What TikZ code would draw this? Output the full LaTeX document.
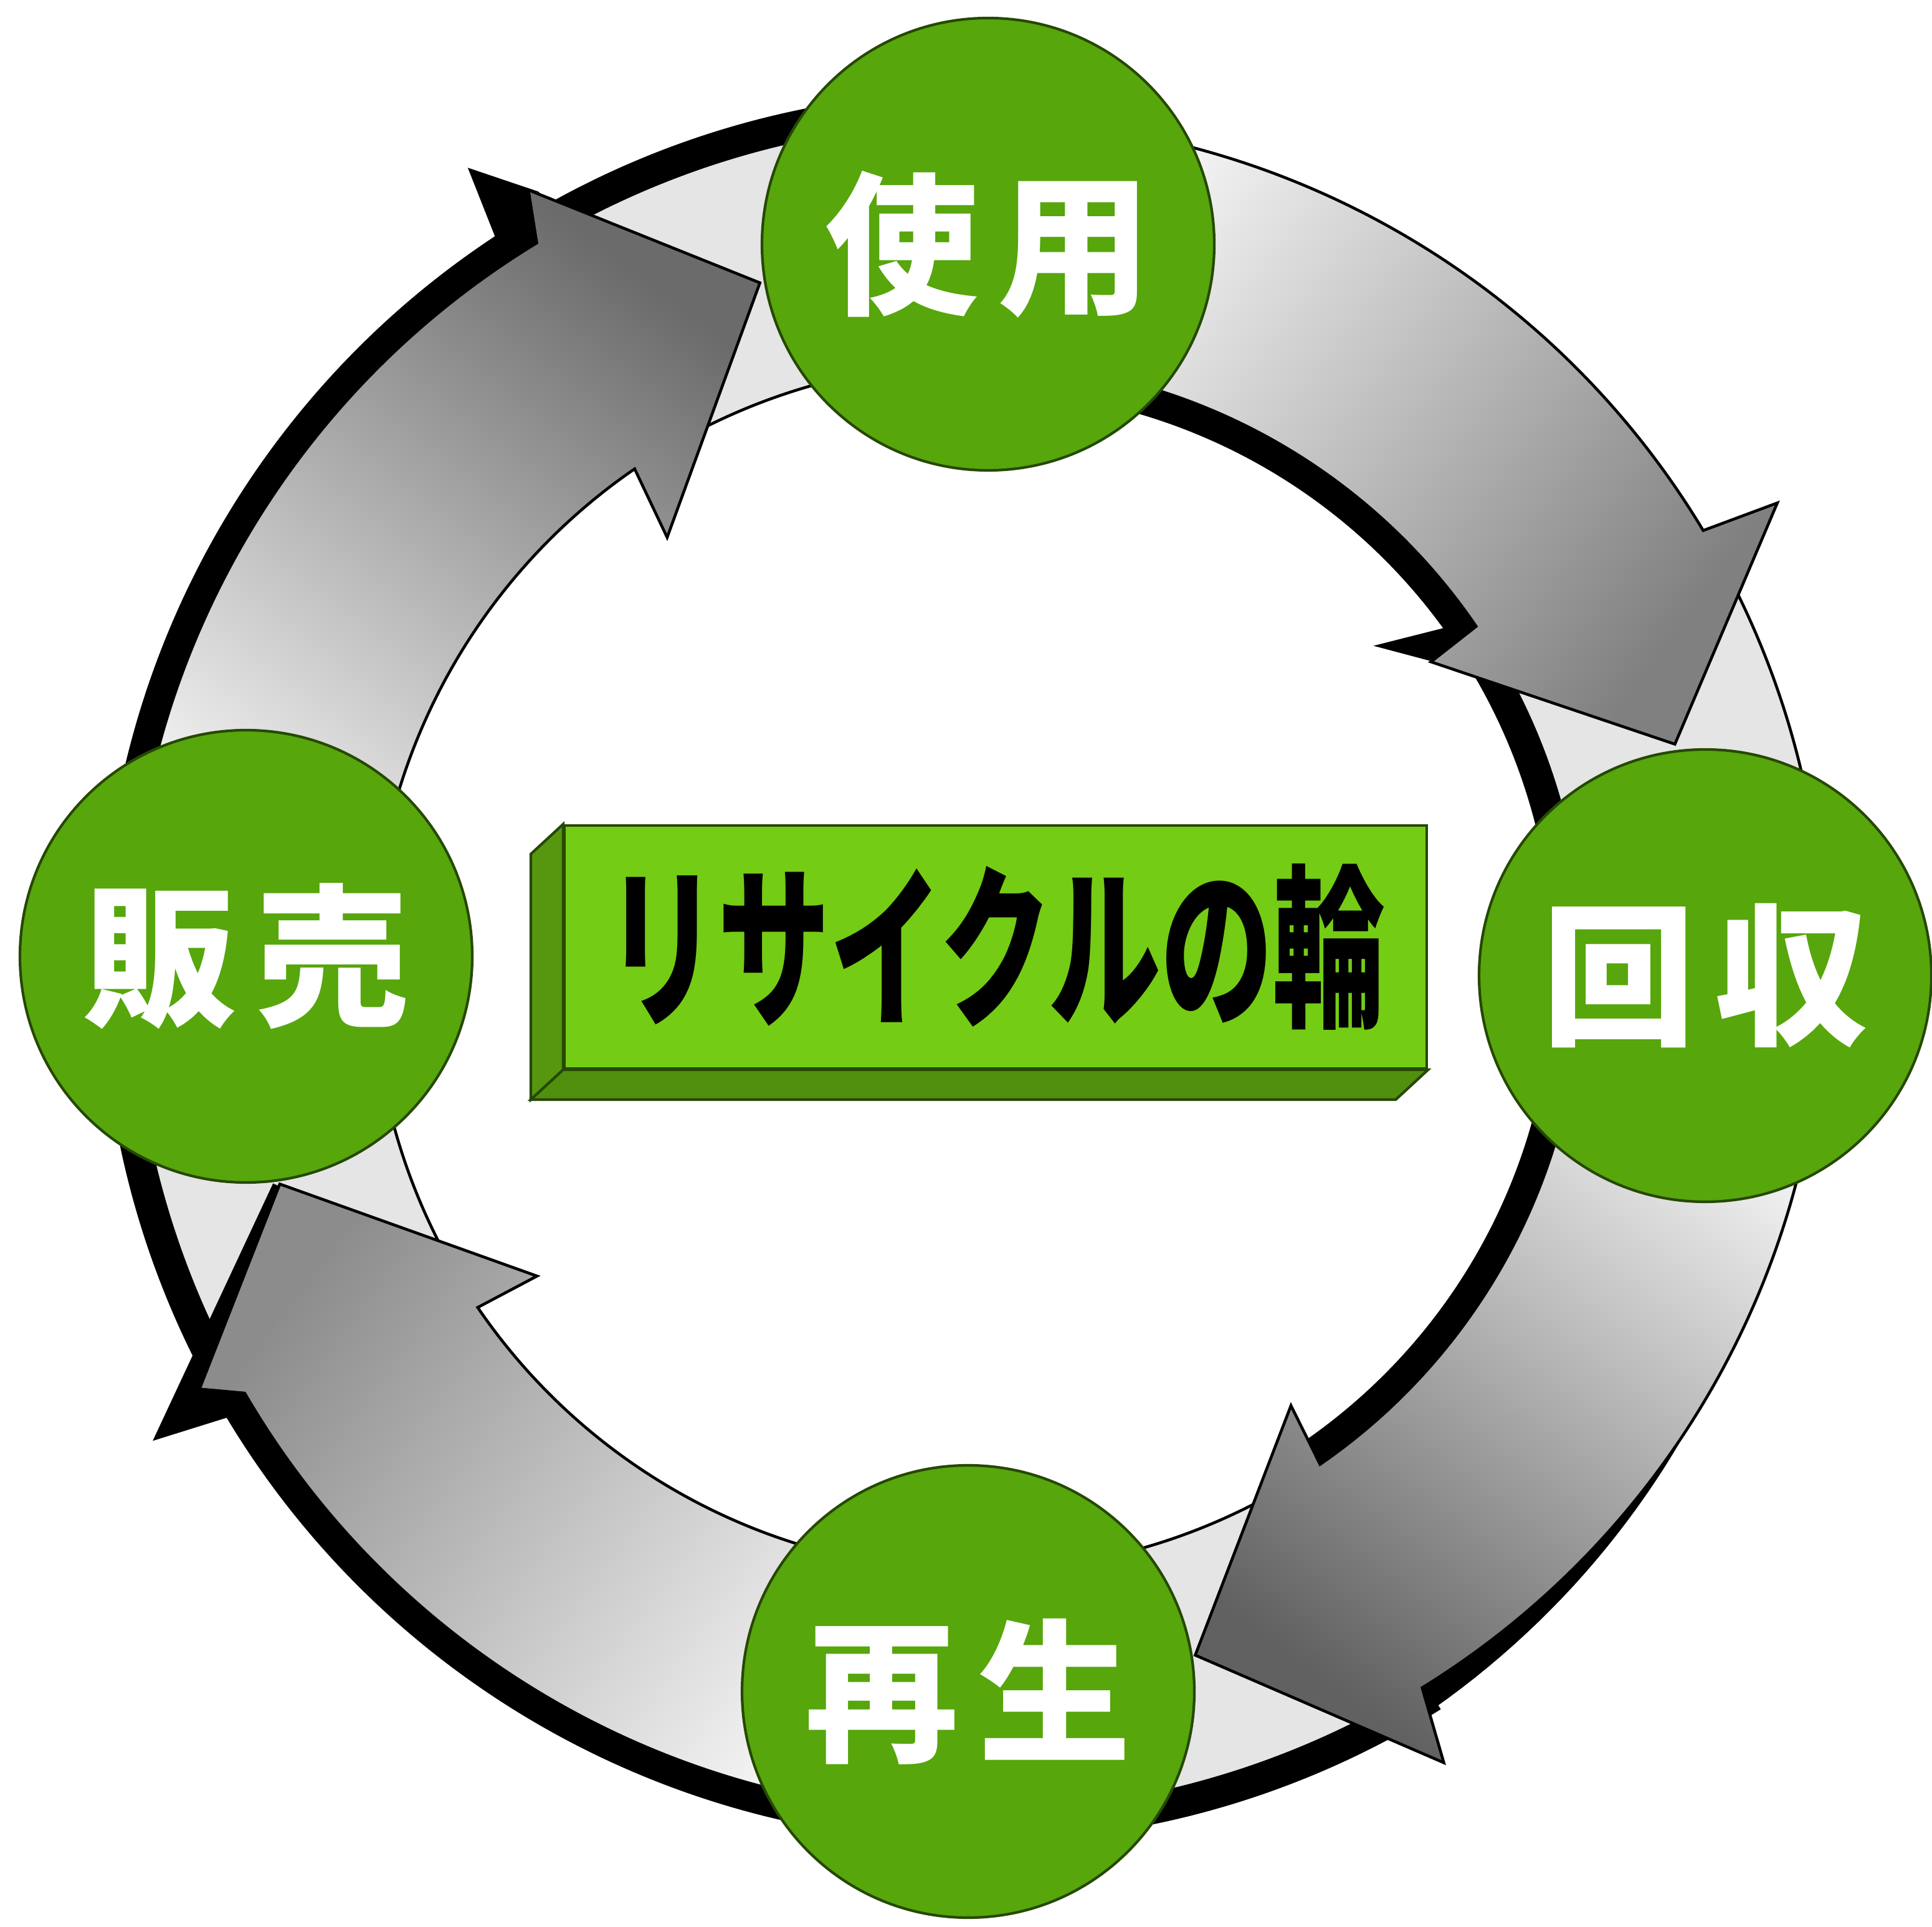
\documentclass[tikz,border=0pt]{standalone}
\usepackage{fontspec}
\usepackage{graphicx}
\usepackage{tikz}
\newfontfamily\jpfont{Noto Sans CJK JP}

\definecolor{discgreen}{RGB}{86,166,12}
\definecolor{plategreen}{RGB}{116,204,20}
\definecolor{edgegreen}{RGB}{38,72,4}

\begin{document}
\begin{tikzpicture}[stage/.style = {draw=edgegreen, circle, line width=1.2pt, fill=discgreen, minimum size=7.26cm, inner sep=0pt, text=white, font=\jpfont\bfseries\fontsize{70}{70}\selectfont},
  plate/.style = {draw=edgegreen, line width=1.2pt, fill=plategreen, minimum width=13.84cm, minimum height=3.90cm, inner sep=0pt, font=\jpfont\bfseries\fontsize{80}{80}\selectfont},
  rim/.style = {draw=black, line width=1.3pt, line join=miter},
  wedge/.style = {fill=black!10}]

\useasboundingbox (0,0) rectangle (31.01,30.92);
\coordinate (ring) at (15.68,15.40);

\begin{scope}[shift={(ring)}]
%% tails behind the circles
\fill[wedge] (121:9.7) arc[start angle=121, end angle=89.1, radius=9.7] -- (89.1:13.6) arc[start angle=89.1, end angle=121, radius=13.6] -- cycle;
\fill (121:13.55) arc[start angle=121, end angle=89.1, radius=13.55] -- (89.1:14.05) arc[start angle=89.1, end angle=121, radius=14.05] -- cycle;
\draw[rim] (121:9.7) arc[start angle=121, end angle=89.1, radius=9.7];

\fill[wedge] (31:9.7) arc[start angle=31, end angle=-0.7, radius=9.7] -- (-0.7:13.6) arc[start angle=-0.7, end angle=31, radius=13.6] -- cycle;
\fill (31:9.25) arc[start angle=31, end angle=-0.7, radius=9.25] -- (-0.7:9.75) arc[start angle=-0.7, end angle=31, radius=9.75] -- cycle;
\draw[rim] (31:13.6) arc[start angle=31, end angle=-0.7, radius=13.6];

\fill[wedge] (-58:9.7) arc[start angle=-58, end angle=-90.7, radius=9.7] -- (-90.7:13.6) arc[start angle=-90.7, end angle=-58, radius=13.6] -- cycle;
\fill (-58:13.55) arc[start angle=-58, end angle=-90.7, radius=13.55] -- (-90.7:14.05) arc[start angle=-90.7, end angle=-58, radius=14.05] -- cycle;
\draw[rim] (-58:9.7) arc[start angle=-58, end angle=-90.7, radius=9.7];

\fill[wedge] (211:9.7) arc[start angle=211, end angle=179.2, radius=9.7] -- (179.2:13.6) arc[start angle=179.2, end angle=211, radius=13.6] -- cycle;
\fill (211:13.55) arc[start angle=211, end angle=179.2, radius=13.55] -- (179.2:14.05) arc[start angle=179.2, end angle=211, radius=14.05] -- cycle;
\draw[rim] (211:9.7) arc[start angle=211, end angle=179.2, radius=9.7];

%%% arrows
% sell -> use
\fill (179.2:13.5) arc[start angle=179.2, end angle=121.3, radius=13.5] -- (121.3:14.05) arc[start angle=121.3, end angle=179.2, radius=14.05] -- cycle;
\fill (123.5:13.4) -- (123.5:13.95) -- (122.5:15.21) -- (119.5:14.3) -- (118:13.2) -- cycle;
\shade[rim, top color=black!58, middle color=black!22, bottom color=black!3, shading angle=-37.4] (179.2:13.6) arc[start angle=179.2, end angle=121.3, radius=13.6] -- (120:14.4) -- (107.6:11.52) -- (125.8:8.5) -- (124.5:9.7) arc[start angle=124.5, end angle=179.2, radius=9.7] -- cycle;

% use -> collect
\fill (89.1:9.25) arc[start angle=89.1, end angle=34.3, radius=9.25] -- (34.3:9.8) arc[start angle=34.3, end angle=89.1, radius=9.8] -- cycle;
\fill (36.5:9.8) -- (36:9.25) -- (39:8.19) -- (33.5:8.85) -- (31:10) -- cycle;
\shade[rim, top color=black!50, middle color=black!18, bottom color=black!2, shading angle=-126.5] (89.1:13.6) arc[start angle=89.1, end angle=31, radius=13.6] -- (30.1:14.85) -- (17.7:11.76) -- (33.9:8.78) -- (34.3:9.7) arc[start angle=34.3, end angle=89.1, radius=9.7] -- cycle;

% collect -> regen
\fill (-0.7:9.25) arc[start angle=-0.7, end angle=-55.4, radius=9.25] -- (-55.4:9.8) arc[start angle=-55.4, end angle=-0.7, radius=9.8] -- cycle;
\fill plot[domain=-26:-58.3, samples=30] (\x:{13.5+0.48*(-26-\x)/32.3}) -- (-58.3:13.5) arc[start angle=-58.3, end angle=-26, radius=13.5] -- cycle;
\shade[rim, top color=black!62, middle color=black!22, bottom color=black!2, shading angle=143.3] (-0.7:13.6) arc[start angle=-0.7, end angle=-58.3, radius=13.6] -- (-59.6:14.81) -- (-72.4:11.59) -- (-54.4:8.66) -- (-55.4:9.7) arc[start angle=-55.4, end angle=-0.7, radius=9.7] -- cycle;

% regen -> sell
\fill (269.3:13.5) arc[start angle=269.3, end angle=210.2, radius=13.5] -- (210.2:14.05) arc[start angle=210.2, end angle=269.3, radius=14.05] -- cycle;
\fill (212:13.4) -- (211:14.05) -- (209.9:15.26) -- (197.1:11.82) -- (200:11.2) -- cycle;
\shade[rim, top color=black!45, middle color=black!18, bottom color=black!2, shading angle=53.4] (269.3:13.6) arc[start angle=269.3, end angle=210.2, radius=13.6] -- (208.5:14.2) -- (197.3:11.72) -- (215.1:8.63) -- (214.3:9.7) arc[start angle=214.3, end angle=269.3, radius=9.7] -- cycle;
\end{scope}

%% stage circles
\node[stage] (use) at (15.86,27.00) {使\hspace{9pt}用};
\node[stage] (collect) at (27.37,15.26) {回\hspace{9pt}収};
\node[stage] (regen) at (15.54,3.77) {再\hspace{9pt}生};
\node[stage] (sell) at (3.95,15.57) {販\hspace{9pt}売};

%% title plate
\node[plate] (title) at (15.98,15.72) {\scalebox{0.64}[1]{リサイクルの輪}};
\draw[edgegreen, line width=1.2pt, fill=plategreen!74!black] (title.north west) -- (title.south west) -- ([shift={(-0.52,-0.48)}]title.south west) -- ([shift={(-0.52,-0.48)}]title.north west) -- cycle;
\draw[edgegreen, line width=1.2pt, fill=plategreen!70!black] (title.south west) -- (title.south east) -- ([shift={(-0.52,-0.48)}]title.south east) -- ([shift={(-0.52,-0.48)}]title.south west) -- cycle;

\end{tikzpicture}
\end{document}
